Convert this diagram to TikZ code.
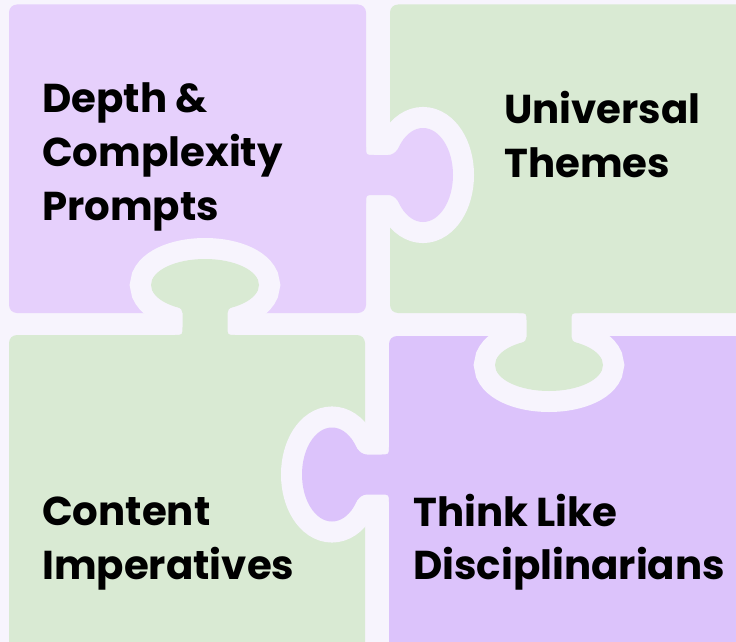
\documentclass[tikz,border=0pt]{standalone}
\usepackage{fontspec}
\setmainfont{Poppins}
\definecolor{bgc}{HTML}{F7F4FD}
\definecolor{purpA}{HTML}{E6D0FC}
\definecolor{purpB}{HTML}{DCC3FB}
\definecolor{greenc}{HTML}{D9EAD3}
\tikzset{
  piece/.style={rounded corners=8pt},
  halo/.style={draw=bgc, fill=bgc, line width=42pt},
  lbl/.style={anchor=base west, inner sep=0pt, text=black, font=\bfseries\fontsize{40.3}{54}\selectfont}
}
\begin{document}
\begin{tikzpicture}[x=1pt,y=-1pt]
\useasboundingbox (0,0) rectangle (736,642);
\clip (0,0) rectangle (736,642);
\fill[bgc] (0,0) rectangle (736,642);
% pieces
\fill[purpA, piece] (9,4.5) rectangle (366,313);
\fill[greenc, piece] (390,4.5) rectangle (770,313);
\fill[greenc, piece] (9,335) rectangle (365,680);
\fill[purpB, piece] (389,336) rectangle (770,680);
% halos around the knobs
\path[halo] (423,175) ellipse [x radius=30, y radius=47];
\path[halo] (205,285) ellipse [x radius=54, y radius=26];
\path[halo] (549,365) ellipse [x radius=54, y radius=26];
\path[halo] (332,474.5) ellipse [x radius=30, y radius=47];
% knob A: top-left -> right
\fill[purpA] (360,147) -- (366,147) .. controls (366,155) .. (374,155) -- (388,155)
  .. controls (396,155) and (400,146) .. (404,139) -- (423,175) -- (404,211)
  .. controls (400,204) and (396,195) .. (388,195) -- (374,195) .. controls (366,195) .. (366,203)
  -- (360,203) -- cycle;
\fill[purpA] (423,175) ellipse [x radius=30, y radius=47];
% knob B: bottom-left -> up
\fill[greenc] (174.5,341) -- (174.5,335) .. controls (182.5,335) .. (182.5,327) -- (182.5,313)
  .. controls (182.5,307) and (175,305.5) .. (167,302.5) -- (205,285) -- (243,302.5)
  .. controls (235,305.5) and (227.5,307) .. (227.5,313) -- (227.5,327) .. controls (227.5,335) .. (235.5,335)
  -- (235.5,341) -- cycle;
\fill[greenc] (205,285) ellipse [x radius=54, y radius=26];
% knob C: top-right -> down
\fill[greenc] (518.5,307) -- (518.5,313) .. controls (526.5,313) .. (526.5,321) -- (526.5,337)
  .. controls (526.5,343) and (519,344.5) .. (511,347.5) -- (549,365) -- (587,347.5)
  .. controls (579,344.5) and (571.5,343) .. (571.5,337) -- (571.5,321) .. controls (571.5,313) .. (579.5,313)
  -- (579.5,307) -- cycle;
\fill[greenc] (549,365) ellipse [x radius=54, y radius=26];
% knob D: bottom-right -> left
\fill[purpB] (395,446.5) -- (389,446.5) .. controls (389,454.5) .. (381,454.5) -- (367,454.5)
  .. controls (359,454.5) and (355,445.5) .. (351,438.5) -- (332,474.5) -- (351,510.5)
  .. controls (355,503.5) and (359,494.5) .. (367,494.5) -- (381,494.5) .. controls (389,494.5) .. (389,502.5)
  -- (395,502.5) -- cycle;
\fill[purpB] (332,474.5) ellipse [x radius=30, y radius=47];
% labels
\node[lbl] (tl1) at (42,112) {Depth \&};
\node[lbl] (tl2) at (42,166) {Complexity};
\node[lbl] (tl3) at (42,220) {Prompts};
\node[lbl] (tr1) at (504,123) {Universal};
\node[lbl] (tr2) at (504,177) {Themes};
\node[lbl] (bl1) at (42,525) {Content};
\node[lbl] (bl2) at (42,579) {Imperatives};
\node[lbl] (br1) at (413,526) {Think Like};
\node[lbl] (br2) at (413,579) {Disciplinarians};
\end{tikzpicture}
\end{document}
